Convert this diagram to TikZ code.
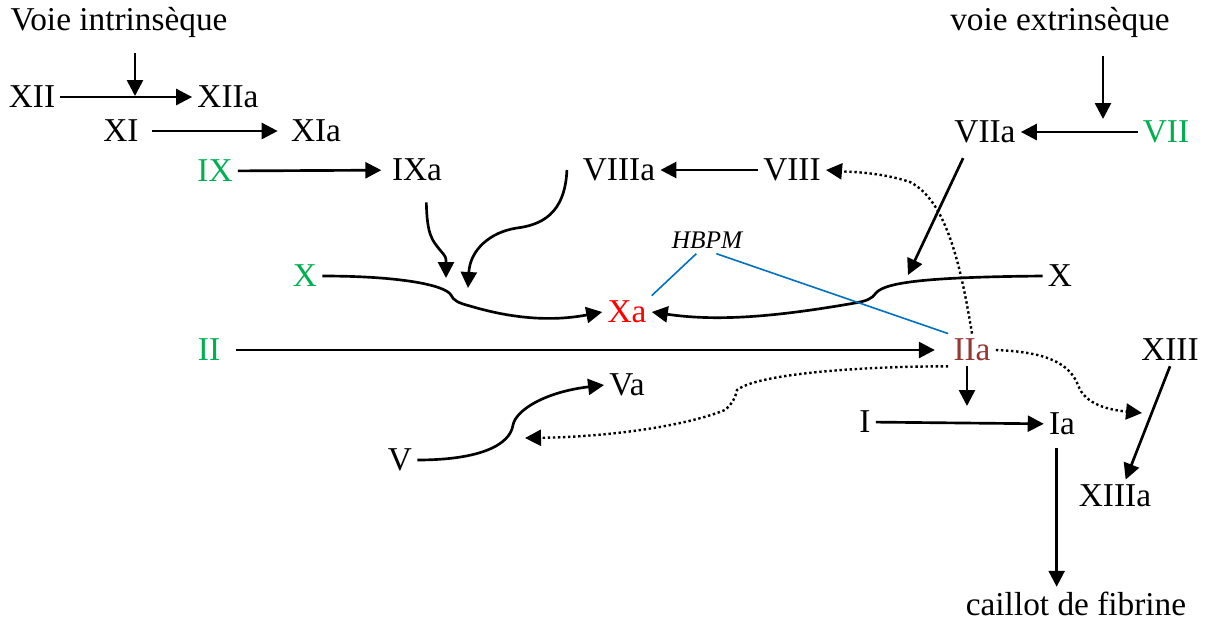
\documentclass[tikz,border=0pt]{standalone}
\usepackage{fontspec}
\setmainfont{Liberation Serif}
\usetikzlibrary{arrows.meta,positioning}
\definecolor{vert}{RGB}{0,176,80}
\definecolor{brun}{RGB}{149,55,53}
\definecolor{bleu}{RGB}{0,112,192}

\begin{document}
\begin{tikzpicture}[x=0.75pt, y=-0.75pt, >={Triangle[length=12pt,width=12pt]}, line width=2pt]
        \tikzstyle{every node}=[inner sep=3pt, font=\fontsize{25}{29}\selectfont]
        \tikzstyle{pont}=[->, dotted, line width=1.8pt]
        \tikzstyle{hep}=[draw=bleu, line width=1.2pt]
        \useasboundingbox (0,0) rectangle (1208,622);
        % facteurs
        \node (vi)    at (119,22)   {Voie intrinsèque};
        \node (XII)   at (32,97)    {XII};
        \node (XIIa)  at (228,97)   {XIIa};
        \node (XI)    at (121,131)  {XI};
        \node (XIa)   at (316,131)  {XIa};
        \node[text=vert] (IX) at (215,171) {IX};
        \node (IXa)   at (417,170)  {IXa};
        \node (VIIIa) at (619,170)  {VIIIa};
        \node (VIII)  at (792,170)  {VIII};
        \node (ve)    at (1060,22)  {voie extrinsèque};
        \node (VIIa)  at (985,132)  {VIIa};
        \node[text=vert] (VII) at (1166,132) {VII};
        \node[text=vert] (Xg)  at (305,276) {X};
        \node (Xd)    at (1060,276) {X};
        \node[text=red] (Xa)   at (627,312) {Xa};
        \node[font=\fontsize{19}{22}\selectfont\itshape] (hbpm) at (707,240) {HBPM};
        \node[text=vert] (II)  at (209,350) {II};
        \node[text=brun] (IIa) at (972,350) {IIa};
        \node (XIII)  at (1170,350) {XIII};
        \node (Va)    at (627,385)  {Va};
        \node (V)     at (400,460)  {V};
        \node (I)     at (865,422)  {I};
        \node (Ia)    at (1062,424) {Ia};
        \node (XIIIa) at (1115,496) {XIIIa};
        \node (fib)   at (1076,604) {caillot de fibrine};
        \coordinate (k1) at (135,96);
        \coordinate (k2) at (1103,119);
        \coordinate (k3) at (908,275);
        \coordinate (k4) at (967,406);
        % voie intrinseque
        \draw[->] (XII) -- (XIIa);
        \draw[->, shorten <=8pt] (k1 |- vi.south) -- (k1);
        \draw[->, shorten <=6pt, shorten >=6pt] (XI) -- (XIa);
        \draw[->, shorten >=4pt] (IX) -- (IXa);
        \draw[->] (VIII) -- (VIIIa);
        \draw[->] ([xshift=7pt,yshift=-12pt]IXa.south) .. controls (427,235) and (432,240) .. (440,250)
                  .. controls (446,257) .. (446,278);
        \draw[->] ([xshift=-8pt]VIIIa.west) .. controls (565,215) and (540,225) .. (517,228)
                  .. controls (490,232) and (470,250) .. (468,288);
        \draw[->] (Xg.east) .. controls (400,276) and (445,285) .. (451,295)
                  .. controls (453,300) and (458,303) .. (470,306)
                  .. controls (510,318) and (550,322) .. (Xa.west);
        % voie extrinseque
        \draw[->, shorten <=10pt] (k2 |- ve.south) -- (k2);
        \draw[->] (VII) -- (VIIa);
        \draw[->, shorten <=8pt] ([xshift=-13pt]VIIa.south) -- (k3);
        \draw[->] (Xd.west) .. controls (930,277) and (885,282) .. (876,293)
                  .. controls (872,299) and (866,301) .. (855,303)
                  .. controls (780,316) and (720,322) .. (Xa.east);
        % heparine
        \draw[hep] ([xshift=-8pt]hbpm.south) -- (Xa.north east);
        \draw[hep] ([xshift=7pt]hbpm.south) -- (IIa.north west);
        % voie commune
        \draw[->, shorten <=8pt, shorten >=10pt] (II) -- (IIa);
        \draw[->] (k4 |- IIa.south) -- (k4);
        \draw[->] (I) -- (Ia);
        \draw[->, shorten <=6pt] ([xshift=-4pt]Ia.south) -- ([xshift=-4pt]Ia.south |- fib.north);
        \draw[->] (XIII.south) -- ([xshift=8pt]XIIIa.north);
        \draw[->] (V.east) .. controls (480,460) and (510,445) .. (513,425)
                  .. controls (516,410) and (545,392) .. (Va.west);
        % retroactions
        \draw[pont] (IIa.north) .. controls (960,260) and (945,200) .. (910,182)
                    .. controls (880,172) and (850,172) .. (VIII.east);
        \draw[pont] (IIa.south west) .. controls (880,366) and (760,372) .. (737,390)
                    .. controls (735,398) and (733,403) .. (725,410)
                    .. controls (680,428) and (600,437) .. (525,438);
        \draw[pont] (IIa.east) .. controls (1050,352) and (1070,365) .. (1078,385)
                    .. controls (1085,405) and (1110,410) .. (1142,413);
\end{tikzpicture}
\end{document}
